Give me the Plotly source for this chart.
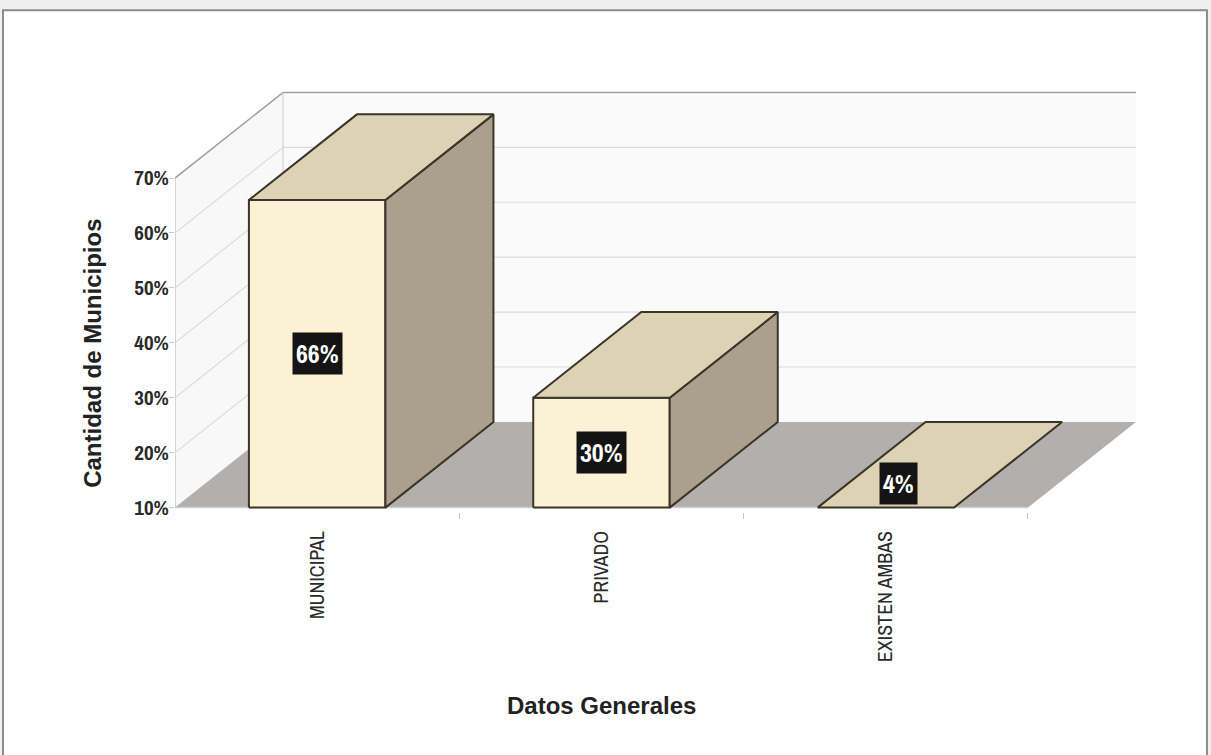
import plotly.graph_objects as go

# ---- data ----
categories = ["MUNICIPAL", "PRIVADO", "EXISTEN AMBAS"]
values = [66, 30, 4]
value_labels = ["66%", "30%", "4%"]
y_tick_values = [10, 20, 30, 40, 50, 60, 70]
y_tick_labels = ["10%", "20%", "30%", "40%", "50%", "60%", "70%"]

# ---- geometry of the oblique 3D projection (axis units) ----
Y_MIN, Y_MAX = 10, 70          # value axis
DEPTH_X = 0.38                 # depth offset along x (category units)
DEPTH_Y = 15.6                 # depth offset along y (value units)
BAR_W = 0.48                   # bar width as fraction of a category slot
N = len(categories)

# pixel layout
W, H = 1211, 755
PX_PER_CAT = 284.33
PX_PER_PCT = 5.5
AX_LEFT, AX_BOTTOM = 175, 508
x_lo, x_hi = 0.0, N + DEPTH_X
y_lo, y_hi = Y_MIN - 0.8, Y_MAX + DEPTH_Y + 0.8
m_l = AX_LEFT
m_r = W - (AX_LEFT + (x_hi - x_lo) * PX_PER_CAT)
m_b = H - (AX_BOTTOM + (Y_MIN - y_lo) * PX_PER_PCT)
m_t = AX_BOTTOM - (y_hi - Y_MIN) * PX_PER_PCT
plot_w = W - m_l - m_r
plot_h = H - m_t - m_b


def px_to_paper_x(px):
    return (px - m_l) / plot_w


def px_to_paper_y(py):
    return (H - m_b - py) / plot_h


FRONT = "#FBF1D4"
TOP = "#DDD2B4"
SIDE = "#ABA08E"
EDGE = "#3C3428"
FLOOR = "#B2AFAD"
WALL = "#FAFAFA"
GRID = "#DCDCDC"

NARROW = "Archivo Narrow, Liberation Sans Narrow, Arial Narrow, sans-serif"
BOLD = "Liberation Sans, Arial, sans-serif"

fig = go.Figure()


def poly(xs, ys, fill, line_color=None, line_width=0):
    fig.add_trace(go.Scatter(
        x=list(xs) + [xs[0]], y=list(ys) + [ys[0]],
        mode="lines", fill="toself", fillcolor=fill,
        line=dict(color=line_color or fill, width=line_width),
        hoverinfo="skip", showlegend=False,
    ))


def seg(xs, ys, color, width=1):
    fig.add_trace(go.Scatter(
        x=xs, y=ys, mode="lines", line=dict(color=color, width=width),
        hoverinfo="skip", showlegend=False,
    ))


# back wall
poly([DEPTH_X, N + DEPTH_X, N + DEPTH_X, DEPTH_X],
     [Y_MIN + DEPTH_Y, Y_MIN + DEPTH_Y, Y_MAX + DEPTH_Y, Y_MAX + DEPTH_Y], WALL)
# left wall
poly([0, DEPTH_X, DEPTH_X, 0],
     [Y_MIN, Y_MIN + DEPTH_Y, Y_MAX + DEPTH_Y, Y_MAX], "#F8F8F8")
# gridlines on both walls
for v in y_tick_values[1:-1]:
    seg([0, DEPTH_X, N + DEPTH_X], [v, v + DEPTH_Y, v + DEPTH_Y], GRID, 1.2)
# wall edges
seg([0, DEPTH_X, N + DEPTH_X], [Y_MAX, Y_MAX + DEPTH_Y, Y_MAX + DEPTH_Y], "#A0A0A0", 1.5)
seg([DEPTH_X, DEPTH_X], [Y_MIN + DEPTH_Y, Y_MAX + DEPTH_Y], "#D2D2D2", 1.2)
# floor
poly([0, N, N + DEPTH_X, DEPTH_X],
     [Y_MIN, Y_MIN, Y_MIN + DEPTH_Y, Y_MIN + DEPTH_Y], FLOOR)
# front axes lines
seg([0, 0], [Y_MIN, Y_MAX], "#C8C8C8", 1.5)
seg([0, N], [Y_MIN, Y_MIN], "#D0D0D0", 1.5)

# bars (values under the axis minimum sit flat on the floor)
for i, v in enumerate(values):
    x0 = i + (1 - BAR_W) / 2
    x1 = x0 + BAR_W
    top = max(v, Y_MIN)
    if top > Y_MIN:
        poly([x0, x1, x1, x0], [Y_MIN, Y_MIN, top, top], FRONT, EDGE, 2)
        poly([x1, x1 + DEPTH_X, x1 + DEPTH_X, x1],
             [Y_MIN, Y_MIN + DEPTH_Y, top + DEPTH_Y, top], SIDE, EDGE, 2)
    poly([x0, x1, x1 + DEPTH_X, x0 + DEPTH_X],
         [top, top, top + DEPTH_Y, top + DEPTH_Y], TOP, EDGE, 2)

# value labels
for i, (v, lab) in enumerate(zip(values, value_labels)):
    if v > Y_MIN:
        lx, ly, sx, sy = i + 0.5, (Y_MIN + v) / 2, 0, 0
    else:
        lx, ly, sx, sy = i + 0.5, Y_MIN, 13, 24
    fig.add_annotation(
        x=lx, y=ly, xref="x", yref="y", text=f"<b>{lab}</b>", showarrow=False,
        xshift=sx, yshift=sy, bgcolor="#141414", borderpad=3,
        xanchor="center", yanchor="middle",
        font=dict(family=NARROW, size=26, color="white"),
    )

# axis titles
fig.add_annotation(
    x=px_to_paper_x(93), y=px_to_paper_y(354), xref="paper", yref="paper",
    xanchor="center", yanchor="middle",
    text="<b>Cantidad de Municipios</b>", showarrow=False, textangle=-90,
    font=dict(family=BOLD, size=24, color="#222222"),
)
fig.add_annotation(
    x=N / 2, y=px_to_paper_y(706), xref="x", yref="paper",
    xanchor="center", yanchor="middle",
    text="<b>Datos Generales</b>", showarrow=False,
    font=dict(family=BOLD, size=24, color="#222222"),
)

# frame around the chart
fig.add_shape(type="rect", xref="paper", yref="paper",
              x0=px_to_paper_x(3), x1=px_to_paper_x(1207),
              y0=px_to_paper_y(780), y1=px_to_paper_y(10),
              fillcolor="white", line=dict(color="#8C8C8C", width=2), layer="below")

fig.update_layout(
    width=W, height=H,
    margin=dict(l=m_l, r=m_r, t=m_t, b=m_b, pad=0),
    paper_bgcolor="#EFEFEF", plot_bgcolor="rgba(0,0,0,0)",
    xaxis=dict(
        range=[x_lo, x_hi], showgrid=False, zeroline=False, showline=False,
        tickmode="array", tickvals=[i + 0.5 for i in range(N)], ticktext=categories,
        ticks="", tickangle=-90, ticklabelstandoff=14,
        tickfont=dict(family=NARROW, size=20, color="#2A2A2A"),
        minor=dict(tickmode="array", tickvals=list(range(1, N + 1)), ticks="outside",
                   ticklen=6, tickcolor="#C8C8C8", tickwidth=1),
    ),
    yaxis=dict(
        range=[y_lo, y_hi], showgrid=False, zeroline=False, showline=False,
        tickmode="array", tickvals=y_tick_values, ticktext=y_tick_labels,
        ticks="outside", ticklen=5, tickcolor="#C8C8C8", ticklabelstandoff=-4,
        tickfont=dict(family=NARROW, size=21, color="#2A2A2A", weight="bold"),
    ),
    showlegend=False,
)

fig.write_html("out.html")
